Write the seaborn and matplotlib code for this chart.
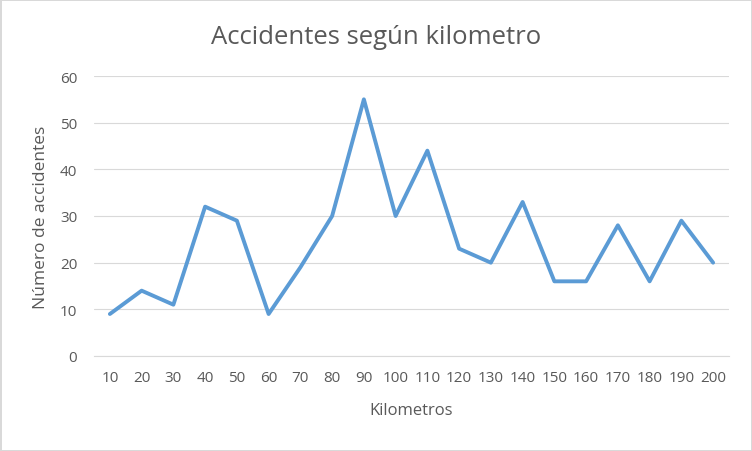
import matplotlib
matplotlib.use("Agg")
import matplotlib.pyplot as plt
import seaborn as sns
import pandas as pd

kilometros = ["10", "20", "30", "40", "50", "60", "70", "80", "90", "100",
              "110", "120", "130", "140", "150", "160", "170", "180", "190", "200"]
accidentes = [9, 14, 11, 32, 29, 9, 19, 30, 55, 30,
              44, 23, 20, 33, 16, 16, 28, 16, 29, 20]
y_ticks = [0, 10, 20, 30, 40, 50, 60]

sns.set_theme(style="white")
plt.rcParams['font.family'] = ['Open Sans', 'DejaVu Sans']

df = pd.DataFrame({"Kilometros": kilometros, "Accidentes": accidentes})

fig = plt.figure(figsize=(7.52, 4.52), dpi=100)
fig.patch.set_facecolor("white")
fig.patch.set_edgecolor("#d9d9d9")
fig.patch.set_linewidth(1.0)
ax = fig.add_axes([94/752, 95/452, (729-94)/752, (357-77)/452])

sns.lineplot(data=df, x="Kilometros", y="Accidentes", ax=ax, color="#5B9BD5",
             linewidth=2.8, sort=False)

ax.set_xlim(-0.5, len(kilometros) - 0.5)
ax.set_ylim(0, 60)
ax.set_yticks(y_ticks)
ax.set_xticks(range(len(kilometros)))
ax.set_xticklabels(kilometros)
ax.yaxis.grid(True, color="#d9d9d9", linewidth=0.8)
ax.xaxis.grid(False)
for s in ["top", "right", "left"]:
    ax.spines[s].set_visible(False)
ax.spines["bottom"].set_color("#d9d9d9")
ax.spines["bottom"].set_linewidth(0.8)
ax.set_axisbelow(True)
ax.tick_params(axis="both", length=0, labelsize=11, colors="#595959")
ax.tick_params(axis="x", pad=10)
ax.tick_params(axis="y", pad=12)

ax.set_xlabel("Kilometros", fontsize=12, color="#595959", labelpad=12)
ax.set_ylabel("Número de accidentes", fontsize=12.5, color="#595959", labelpad=8)
fig.text(376/752, 1 - 38/452, "Accidentes según kilometro", fontsize=18.5,
         color="#595959", ha="center", va="center")

fig.savefig("out.png", dpi=100)
